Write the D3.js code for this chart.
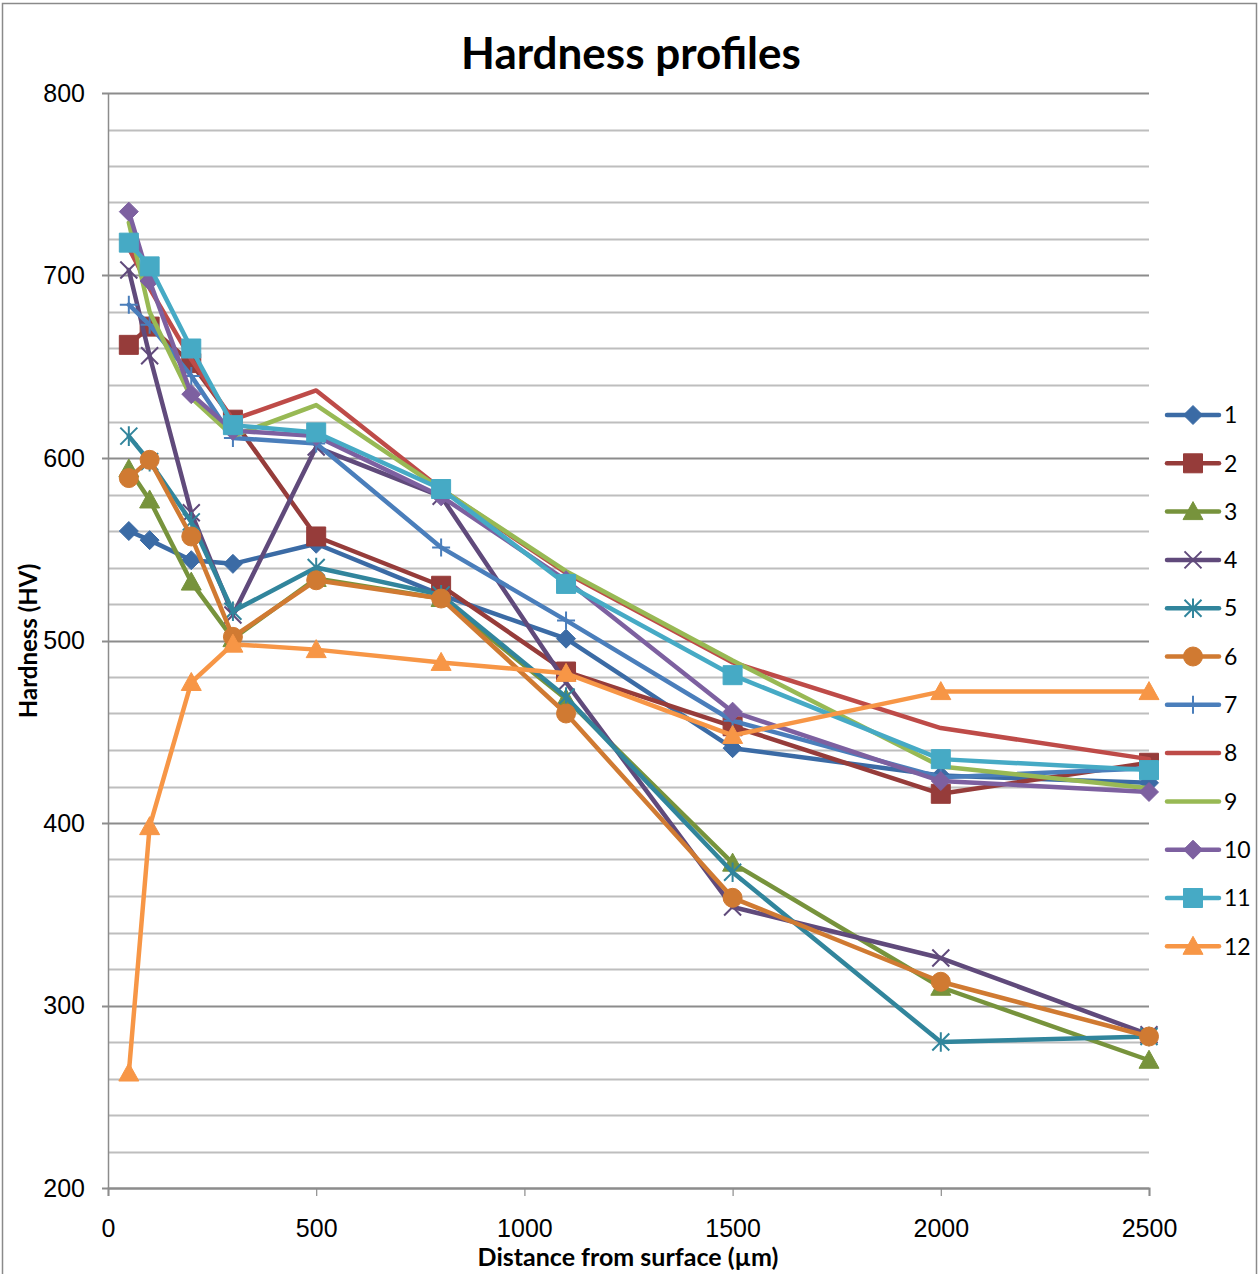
<!DOCTYPE html>
<html>
<head>
<meta charset="utf-8">
<script src="https://cdn.jsdelivr.net/npm/d3@7"></script>
<style>
  html, body { margin: 0; padding: 0; background: #fff; }
  svg { display: block; font-family: Lato, "Open Sans", sans-serif; }
</style>
</head>
<body>
<svg id="chart" width="1259" height="1274"></svg>
<script>
// Measurement depths (µm)
const depths = [50, 100, 200, 300, 500, 800, 1100, 1500, 2000, 2500];

// Hardness (HV) for each profile, one value per depth
const s1  = [560, 555, 544, 542, 553, 525, 501, 441, 426, 422];
const s2  = [662, 672, 652, 621, 557, 530, 483, 453, 416, 433];
const s3  = [594, 577, 532, 501, 534, 523, 468, 378, 310, 270];
const s4  = [703, 656, 570, 514, 606, 579, 477, 354, 326, 284];
const s5  = [612, 598, 565, 516, 540, 525, 469, 373, 280, 283];
const s6  = [589, 599, 557, 502, 533, 523, 460, 359, 313, 283];
const s7  = [684, 673, 645, 611, 608, 551, 511, 456, 425, 430];
const s8  = [715, 693, 654, 621, 637, 583, 537, 488, 452, 435];
const s9  = [729, 680, 633, 612, 629, 583, 538, 489, 431, 419];
const s10 = [735, 697, 635, 615, 612, 579, 533, 461, 423, 417];
const s11 = [718, 705, 660, 618, 614, 583, 531, 481, 435, 429];
const s12 = [263, 398, 477, 498, 495, 488, 482, 448, 472, 472];

const seriesNames = ["1", "2", "3", "4", "5", "6", "7", "8", "9", "10", "11", "12"];
const seriesValues = [s1, s2, s3, s4, s5, s6, s7, s8, s9, s10, s11, s12];
const seriesColors = ["#3B6BA5", "#963C3A", "#77933C", "#604A7B", "#31859C", "#D07A32",
                      "#4A7EBB", "#BE4B48", "#98B954", "#7D60A0", "#46AAC5", "#F79646"];
const seriesMarkers = ["diamond", "square", "triangle", "cross", "asterisk", "circle",
                       "plus", "none", "none", "diamond", "square", "triangle"];

const xTicks = [0, 500, 1000, 1500, 2000, 2500];
const yTicks = [200, 300, 400, 500, 600, 700, 800];

const svg = d3.select("#chart");

// Chart frame
svg.append("rect")
  .attr("x", 2.5).attr("y", 3.5).attr("width", 1254).attr("height", 1280)
  .attr("fill", "#fff").attr("stroke", "#8a8a8a").attr("stroke-width", 1.5);

const plot = { left: 108, right: 1149, top: 93, bottom: 1188 };

const x = d3.scaleLinear().domain([0, 2500]).range([plot.left, plot.right]);
const y = d3.scaleLinear().domain([200, 800]).range([plot.bottom, plot.top]);

// Gridlines: minor every 20 HV, major every 100 HV
const minor = d3.range(200, 801, 20).filter(v => v % 100 !== 0);
svg.append("g").selectAll("line").data(minor).join("line")
  .attr("x1", plot.left).attr("x2", plot.right)
  .attr("y1", d => Math.round(y(d)) + 0.5).attr("y2", d => Math.round(y(d)) + 0.5)
  .attr("stroke", "#BEBEBE").attr("stroke-width", 2);
svg.append("g").selectAll("line").data(yTicks).join("line")
  .attr("x1", plot.left - 6).attr("x2", plot.right)
  .attr("y1", d => Math.round(y(d)) + 0.5).attr("y2", d => Math.round(y(d)) + 0.5)
  .attr("stroke", "#8C8C8C").attr("stroke-width", 2);

// Axes
const yAxis = svg.append("g")
  .attr("transform", `translate(${plot.left},0)`)
  .call(d3.axisLeft(y).tickValues(yTicks).tickSize(0).tickPadding(23));
yAxis.select(".domain").attr("stroke", "#8C8C8C").attr("stroke-width", 1.5);
yAxis.selectAll("text").attr("font-size", 25).attr("fill", "#000");

const xAxis = svg.append("g")
  .attr("transform", `translate(0,${plot.bottom})`)
  .call(d3.axisBottom(x).tickValues(xTicks).tickSize(8).tickPadding(23).tickFormat(d3.format("d")));
xAxis.select(".domain").attr("stroke", "#8C8C8C").attr("stroke-width", 2);
xAxis.selectAll(".tick line").attr("stroke", "#8C8C8C").attr("stroke-width", 1.2);
xAxis.selectAll("text").attr("font-size", 25).attr("fill", "#000");

// Titles
svg.append("text").attr("x", 631).attr("y", 69).attr("text-anchor", "middle")
  .attr("font-size", 44).attr("font-weight", "bold").text("Hardness profiles");
svg.append("text").attr("x", 628).attr("y", 1266).attr("text-anchor", "middle")
  .attr("font-size", 25).attr("font-weight", "bold").text("Distance from surface (µm)");
svg.append("text").attr("transform", "translate(37,641) rotate(-90)").attr("text-anchor", "middle")
  .attr("font-size", 24).attr("font-weight", "bold").text("Hardness (HV)");

// Marker shapes centred on the origin
function markerPath(kind) {
  const p = d3.path();
  if (kind === "diamond") {
    const r = 9.5;
    p.moveTo(0, -r); p.lineTo(r, 0); p.lineTo(0, r); p.lineTo(-r, 0); p.closePath();
  } else if (kind === "square") {
    const r = 9.5;
    p.rect(-r, -r, 2 * r, 2 * r);
  } else if (kind === "triangle") {
    const r = 10;
    p.moveTo(0, -r); p.lineTo(r, 8); p.lineTo(-r, 8); p.closePath();
  } else if (kind === "circle") {
    p.arc(0, 0, 9.5, 0, 2 * Math.PI);
  } else if (kind === "cross") {
    const r = 8.5;
    p.moveTo(-r, -r); p.lineTo(r, r); p.moveTo(r, -r); p.lineTo(-r, r);
  } else if (kind === "asterisk") {
    const r = 8.5;
    p.moveTo(-r, -r); p.lineTo(r, r); p.moveTo(r, -r); p.lineTo(-r, r);
    p.moveTo(0, -r * 1.15); p.lineTo(0, r * 1.15);
  } else if (kind === "plus") {
    const r = 9;
    p.moveTo(-r, 0); p.lineTo(r, 0); p.moveTo(0, -r); p.lineTo(0, r);
  }
  return p.toString();
}
const strokeOnly = k => k === "cross" || k === "asterisk" || k === "plus";

function drawMarker(g, kind, color, cx, cy) {
  if (kind === "none") return;
  g.append("path")
    .attr("d", markerPath(kind))
    .attr("transform", `translate(${cx},${cy})`)
    .attr("fill", strokeOnly(kind) ? "none" : color)
    .attr("stroke", color)
    .attr("stroke-width", strokeOnly(kind) ? 2 : 1);
}

const line = d3.line().x(d => x(d[0])).y(d => y(d[1]));

// Series lines and markers, later series drawn on top
seriesValues.forEach((vals, i) => {
  const g = svg.append("g");
  const pts = depths.map((d, j) => [d, vals[j]]);
  g.append("path").datum(pts)
    .attr("d", line)
    .attr("fill", "none")
    .attr("stroke", seriesColors[i])
    .attr("stroke-width", 4.5)
    .attr("stroke-linejoin", "round")
    .attr("stroke-linecap", "round");
  pts.forEach(p => drawMarker(g, seriesMarkers[i], seriesColors[i], x(p[0]), y(p[1])));
});

// Legend
const legendTop = 415, legendStep = 48.3;
seriesNames.forEach((name, i) => {
  const g = svg.append("g");
  const ly = legendTop + i * legendStep;
  g.append("line").attr("x1", 1167).attr("x2", 1219).attr("y1", ly).attr("y2", ly)
    .attr("stroke", seriesColors[i]).attr("stroke-width", 4.5).attr("stroke-linecap", "round");
  drawMarker(g, seriesMarkers[i], seriesColors[i], 1193, ly);
  g.append("text").attr("x", 1224).attr("y", ly).attr("dy", "0.36em")
    .attr("font-size", 23).attr("fill", "#000").text(name);
});
</script>
</body>
</html>
